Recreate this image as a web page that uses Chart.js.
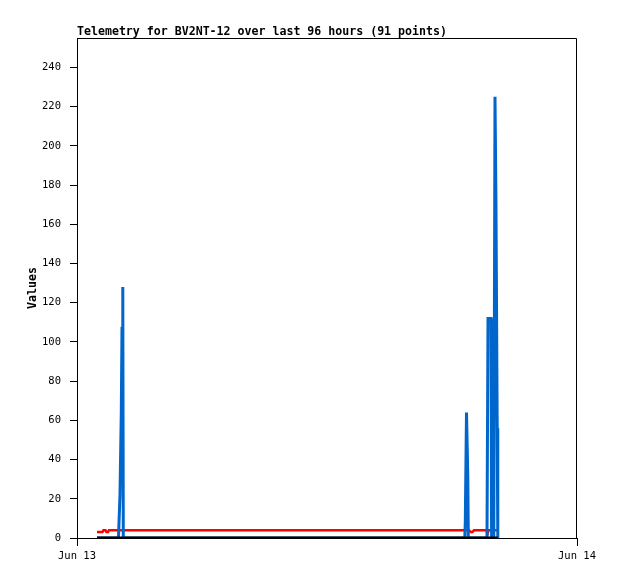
<!DOCTYPE html>
<html>
<head>
<meta charset="utf-8">
<script src="https://cdn.jsdelivr.net/npm/chart.js@4/dist/chart.umd.min.js"></script>
<style>
  body { margin: 0; background: #fff; }
  canvas { display: block; }
</style>
</head>
<body>
<canvas id="telemetry" width="618" height="579"></canvas>
<script>
// titel och axeltexter
const chartTitle = "Telemetry for BV2NT-12 over last 96 hours (91 points)";
const yTitle = "Values";
const xTickLabels = ["Jun 13", "Jun 14"]; // timmar 0 och 24

// tider i timmar efter Jun 13 00:00
const blueTimes = [0.96, 1.99, 2.064, 2.126, 2.16, 2.198, 2.222, 18.614, 18.638, 18.696, 18.758, 18.782, 19.68, 19.728, 19.80, 19.872, 19.90, 20.006, 20.064, 20.112, 20.17, 20.198];
const blueValues = [0, 0, 22, 64, 107, 128, 0, 0, 8, 64, 32, 0, 0, 112, 112, 112, 0, 0, 225, 168, 56, 0];

const redTimes = [0.96, 1.224, 1.272, 1.368, 1.416, 1.488, 1.536, 18.816, 18.888, 18.984, 19.056, 19.656, 19.704, 19.752, 20.184];
const redValues = [3, 3, 4, 4, 3, 3, 4, 4, 3, 3, 4, 4, 2, 4, 4];

const blackTimes = [0.96, 20.19];
const blackValues = [0, 0];

const toPoints = (times, values) => times.map((t, i) => ({ x: t, y: values[i] }));

Chart.defaults.font.family = "'DejaVu Sans Mono', monospace";
Chart.defaults.font.size = 10.5;
Chart.defaults.color = "#000";

// ram + titel
const framePlugin = {
  id: "frame",
  beforeDatasetsDraw(chart) {
    const { ctx, chartArea: a } = chart;
    ctx.save();
    ctx.strokeStyle = "#000";
    ctx.lineWidth = 1;
    ctx.beginPath();
    ctx.moveTo(a.left, a.top + 0.5);
    ctx.lineTo(a.right - 0.5, a.top + 0.5);
    ctx.lineTo(a.right - 0.5, a.bottom);
    ctx.stroke();
    ctx.fillStyle = "#000";
    ctx.font = "bold 11.6px 'DejaVu Sans Mono', monospace";
    ctx.textBaseline = "alphabetic";
    ctx.fillText(chartTitle, a.left, 35);
    ctx.restore();
  },
};

new Chart(document.getElementById("telemetry"), {
  type: "line",
  data: {
    datasets: [
      { label: "black", data: toPoints(blackTimes, blackValues), borderColor: "#000", borderWidth: 3 },
      { label: "blue", data: toPoints(blueTimes, blueValues), borderColor: "#0066cc", borderWidth: 3 },
      { label: "red", data: toPoints(redTimes, redValues), borderColor: "#ff0000", borderWidth: 2.5 },
    ],
  },
  options: {
    responsive: false,
    animation: false,
    layout: { padding: { left: 0, right: 41, top: 38, bottom: 0 } },
    elements: { point: { radius: 0 }, line: { tension: 0, borderJoinStyle: "miter" } },
    plugins: { legend: { display: false }, tooltip: { enabled: false } },
    scales: {
      x: {
        type: "linear",
        min: 0,
        max: 24,
        afterFit: (s) => { s.height = 41; },
        border: { color: "#000", width: 1 },
        grid: { drawOnChartArea: false, drawTicks: true, tickLength: 8, color: "#000" },
        ticks: {
          stepSize: 24,
          autoSkip: false,
          maxRotation: 0,
          padding: 4,
          callback: (v) => xTickLabels[v / 24],
        },
      },
      y: {
        min: 0,
        max: 255,
        afterFit: (s) => { s.width = 77; },
        border: { color: "#000", width: 1 },
        grid: { drawOnChartArea: false, drawTicks: true, tickLength: 7, color: "#000" },
        ticks: { stepSize: 20, includeBounds: false, padding: 9 },
        title: {
          display: true,
          text: yTitle,
          font: { weight: "bold", size: 11.6 },
          padding: { top: 26, bottom: 0 },
        },
      },
    },
  },
  plugins: [framePlugin],
});
</script>
</body>
</html>
